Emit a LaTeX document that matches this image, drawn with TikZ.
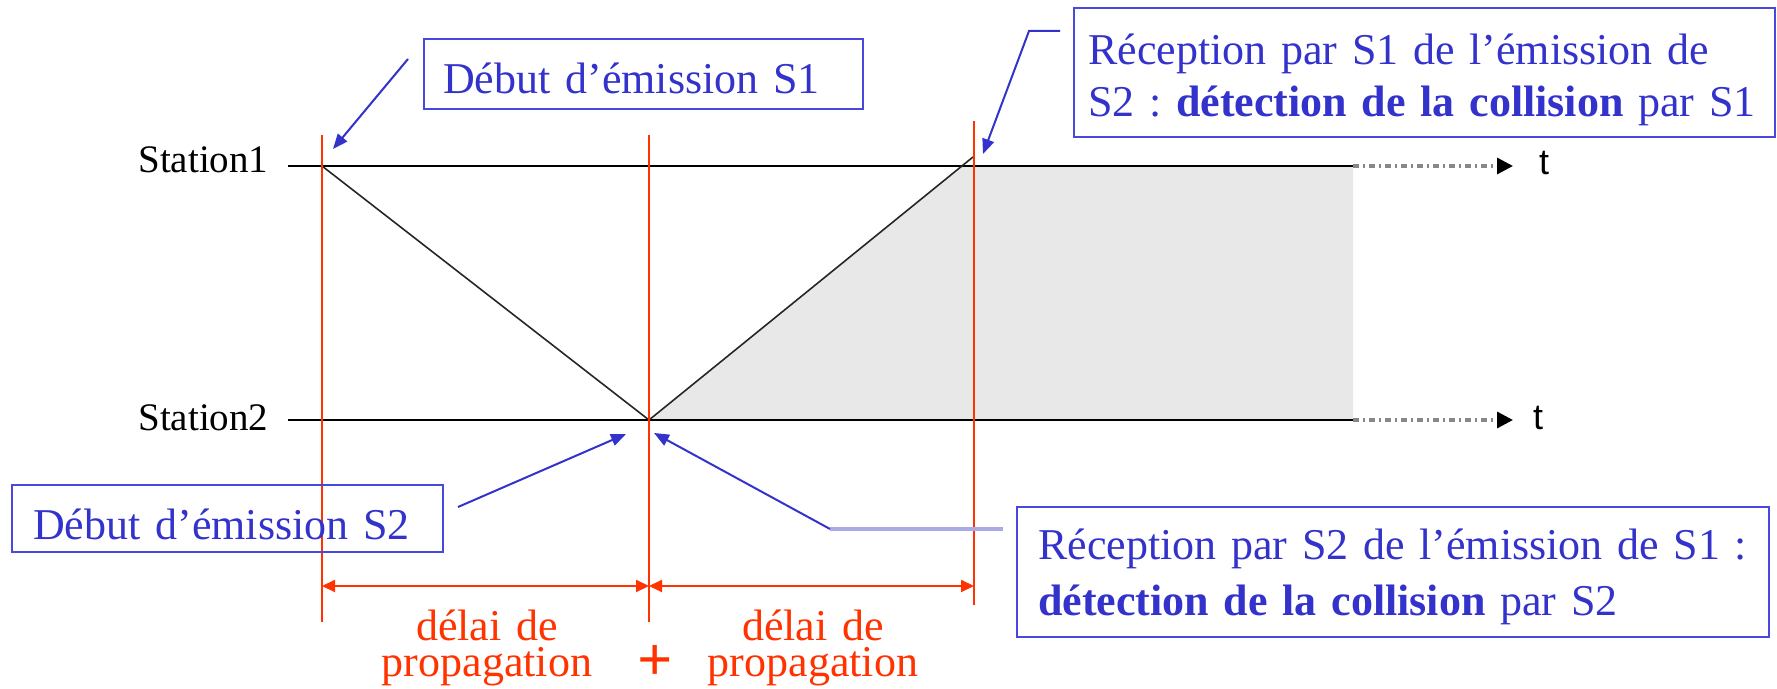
\documentclass[tikz,border=0pt]{standalone}
\usepackage{fontspec}
\setmainfont{Liberation Serif}
\newfontfamily\tsans{Liberation Sans}
\usetikzlibrary{arrows.meta}
\definecolor{cblue}{RGB}{51,51,204}
\definecolor{cbox}{RGB}{72,72,220}
\definecolor{clight}{RGB}{170,170,230}
\definecolor{cred}{RGB}{255,51,0}
\definecolor{cfill}{RGB}{232,232,232}
\definecolor{cdash}{RGB}{135,135,135}
\frenchspacing
\begin{document}
\begin{tikzpicture}[x=0.5pt,y=-0.5pt,
  infobox/.style={draw=cbox, line width=1.2pt, text=cblue, align=left, inner ysep=0pt, anchor=north west},
  stationlabel/.style={anchor=base west, inner sep=0pt, font=\fontsize{19.5pt}{22pt}\selectfont},
  tlabel/.style={inner sep=0pt, font=\tsans\fontsize{18pt}{20pt}\selectfont},
  timeline/.style={line width=1.4pt, black},
  dashext/.style={draw=cdash, line width=1.6pt, dash pattern=on 3pt off 2pt on 1pt off 2pt, -{Triangle[length=8pt,width=8pt,color=black]}},
  redline/.style={draw=cred, line width=1pt},
  diag/.style={draw=black!85, line width=0.8pt},
  callout/.style={draw=cblue, line width=1pt, -{Triangle[length=7.5pt,width=6pt]}},
  dimarrow/.style={draw=cred, line width=1pt, {Triangle[length=6.5pt,width=6pt]}-{Triangle[length=6.5pt,width=6pt]}},
  redtext/.style={text=cred, anchor=base, align=center, text width=130pt, inner sep=0pt, font=\fontsize{22pt}{18pt}\selectfont}
]
\useasboundingbox (0,0) rectangle (1777,689);

% key coordinates
\coordinate (s1start) at (288,166);
\coordinate (s1end) at (1353,166);
\coordinate (t1tip) at (1513,166);
\coordinate (s2start) at (288,420);
\coordinate (s2end) at (1353,420);
\coordinate (t2tip) at (1513,420);
\coordinate (e1) at (322,166);
\coordinate (c2) at (649,420);
\coordinate (hit) at (962,166);
\coordinate (d1end) at (973,157);

% shaded region
\fill[cfill] (c2) -- (hit) -- (s1end) -- (s2end) -- cycle;

% station labels and time lines
\node[stationlabel] (st1) at (138,173) {Station1};
\node[stationlabel] (st2) at (138,430) {Station2};
\draw[timeline] (s1start) -- (s1end);
\draw[timeline] (s2start) -- (s2end);
\draw[dashext] (s1end) -- (t1tip);
\draw[dashext] (s2end) -- (t2tip);
\node[tlabel] (t1) at (1544,163) {t};
\node[tlabel] (t2) at (1538,418) {t};

% propagation diagonals
\draw[diag] (e1) -- (c2) -- (d1end);

% red vertical markers
\coordinate (r1top) at (322,135); \coordinate (r1bot) at (322,622);
\coordinate (r2top) at (649,135); \coordinate (r2bot) at (649,622);
\coordinate (r3top) at (974,121); \coordinate (r3bot) at (974,605);
\draw[redline] (r1top) -- (r1bot);
\draw[redline] (r2top) -- (r2bot);
\draw[redline] (r3top) -- (r3bot);

% dimension arrows
\coordinate (m1) at (322,586); \coordinate (m2) at (649,586); \coordinate (m3) at (974,586);
\draw[dimarrow] (m1) -- (m2);
\draw[dimarrow] (m2) -- (m3);
\node[redtext] (p1) at (487,640) {délai de\\propagation};
\node[redtext] (p2) at (813,640) {délai de\\propagation};
\node[text=cred, anchor=base, inner sep=0pt, text height=16pt, text depth=0pt,
      font=\fontsize{31pt}{31pt}\selectfont\bfseries] (plus) at (655,680) {+};

% info boxes
\node[infobox, inner xsep=9.5pt, text width=200.5pt, text height=27pt, text depth=8pt,
      font=\fontsize{22pt}{26pt}\selectfont] (b1) at (423,38) {Début d’émission S1};
\node[infobox, inner xsep=7pt, text width=336.5pt, text height=28pt, text depth=36.5pt,
      font=\fontsize{22pt}{26pt}\selectfont] (b2) at (1073,7)
      {\mbox{Réception par S1 de l’émission de}\\\mbox{S2 : \textbf{détection de la collision} par S1}};
\node[infobox, inner xsep=10.5pt, text width=194.5pt, text height=27pt, text depth=6.5pt,
      font=\fontsize{22pt}{26pt}\selectfont] (b3) at (11,484) {Début d’émission S2};
\node[infobox, inner xsep=10.5pt, text width=355pt, text height=26pt, text depth=39pt,
      font=\fontsize{22pt}{28pt}\selectfont] (b4) at (1016,506)
      {\mbox{Réception par S2 de l’émission de S1 :}\\\mbox{\textbf{détection de la collision} par S2}};

% callouts
\coordinate (b1start) at (408,59); \coordinate (s1tip) at (333,149);
\draw[callout] (b1start) -- (s1tip);
\coordinate (b2a) at (1060,31); \coordinate (b2b) at (1029,31); \coordinate (b2tip) at (983,154);
\draw[callout] (b2a) -- (b2b) -- (b2tip);
\coordinate (b3start) at (458,507); \coordinate (b3tip) at (626,434);
\draw[callout] (b3start) -- (b3tip);
\coordinate (b4a) at (1003,529); \coordinate (b4b) at (830,529); \coordinate (b4tip) at (654,433);
\draw[draw=clight, line width=1.6pt] (b4a) -- (b4b);
\draw[callout] (b4b) -- (b4tip);
\end{tikzpicture}
\end{document}
